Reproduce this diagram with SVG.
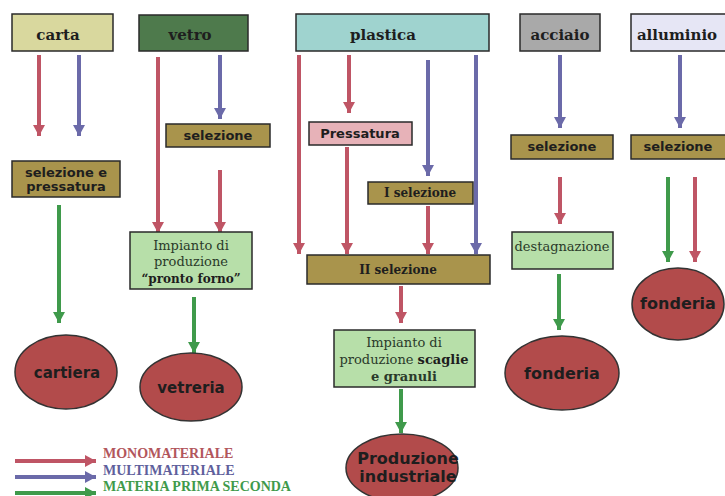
<svg xmlns="http://www.w3.org/2000/svg" width="725" height="496" viewBox="0 0 725 496">
<defs>
<style>
.bx{stroke:#2a2a2a;stroke-width:1.5}
.top{font-family:"DejaVu Serif",serif;font-weight:bold;font-size:15px;fill:#1e1e1e;text-anchor:middle}
.sel{font-family:"DejaVu Sans",sans-serif;font-weight:bold;font-size:13px;fill:#1e1e1e;text-anchor:middle}
.ser{font-family:"DejaVu Serif",serif;font-size:13px;fill:#2a3a2a;text-anchor:middle}
.serb{font-family:"DejaVu Serif",serif;font-weight:bold;font-size:12px;fill:#1e1e1e;text-anchor:middle}
.ell{fill:#b24b4b;stroke:#333;stroke-width:1.5}
.et{font-family:"DejaVu Sans",sans-serif;font-weight:bold;font-size:15px;fill:#1e1e1e;text-anchor:middle}
.et16{font-size:16px}
.r{stroke:#bf5565;stroke-width:4;fill:none}
.b{stroke:#6b6aa9;stroke-width:4;fill:none}
.g{stroke:#3f9a4b;stroke-width:4;fill:none}
.lg{font-family:"Liberation Serif",serif;font-weight:bold;font-size:14px}
</style>
<marker id="mr" markerUnits="userSpaceOnUse" markerWidth="12" markerHeight="12" refX="11" refY="6" orient="auto"><path d="M0,0 L11,6 L0,12 z" fill="#bf5565"/></marker>
<marker id="mb" markerUnits="userSpaceOnUse" markerWidth="12" markerHeight="12" refX="11" refY="6" orient="auto"><path d="M0,0 L11,6 L0,12 z" fill="#6b6aa9"/></marker>
<marker id="mg" markerUnits="userSpaceOnUse" markerWidth="12" markerHeight="12" refX="11" refY="6" orient="auto"><path d="M0,0 L11,6 L0,12 z" fill="#3f9a4b"/></marker>
</defs>
<rect width="725" height="496" fill="#ffffff"/>

<g id="connectors">
<path class="r" d="M39,55 V136" marker-end="url(#mr)"/>
<path class="b" d="M79,55 V136" marker-end="url(#mb)"/>
<path class="g" d="M59,205 V323" marker-end="url(#mg)"/>
<path class="r" d="M158,57 V233" marker-end="url(#mr)"/>
<path class="b" d="M220,55 V119" marker-end="url(#mb)"/>
<path class="r" d="M220,170 V233" marker-end="url(#mr)"/>
<path class="g" d="M194,297 V353" marker-end="url(#mg)"/>
<path class="r" d="M299,55 V254" marker-end="url(#mr)"/>
<path class="r" d="M349,55 V113" marker-end="url(#mr)"/>
<path class="r" d="M347,147 V254" marker-end="url(#mr)"/>
<path class="b" d="M428,60 V176" marker-end="url(#mb)"/>
<path class="b" d="M476,55 V254" marker-end="url(#mb)"/>
<path class="r" d="M428,206 V254" marker-end="url(#mr)"/>
<path class="r" d="M401,286 V323" marker-end="url(#mr)"/>
<path class="g" d="M401,389 V433" marker-end="url(#mg)"/>
<path class="b" d="M560,55 V128" marker-end="url(#mb)"/>
<path class="r" d="M560,177 V224" marker-end="url(#mr)"/>
<path class="g" d="M559,274 V330" marker-end="url(#mg)"/>
<path class="b" d="M680,55 V128" marker-end="url(#mb)"/>
<path class="g" d="M668,177 V262" marker-end="url(#mg)"/>
<path class="r" d="M695,177 V262" marker-end="url(#mr)"/>
</g>

<g id="carta"><rect class="bx" x="12" y="14" width="101" height="37" fill="#d9d89e"/><text class="top" x="58" y="40">carta</text></g>
<g id="vetro"><rect class="bx" x="139" y="15" width="109" height="36" fill="#4e7a4c"/><text class="top" x="190" y="40">vetro</text></g>
<g id="plastica"><rect class="bx" x="296" y="14" width="193" height="37" fill="#9fd3cf"/><text class="top" x="383" y="40">plastica</text></g>
<g id="acciaio"><rect class="bx" x="520" y="14" width="80" height="37" fill="#a9a9a9"/><text class="top" x="560" y="40">acciaio</text></g>
<g id="alluminio"><rect class="bx" x="631" y="14" width="96" height="37" fill="#e6e6f5"/><text class="top" x="677" y="40">alluminio</text></g>

<g id="selezione-pressatura"><rect class="bx" x="12" y="161" width="108" height="36" fill="#a9944c"/><text class="sel" x="66" y="177">selezione e</text><text class="sel" x="66" y="191">pressatura</text></g>
<g id="selezione-vetro"><rect class="bx" x="166" y="124" width="104" height="23" fill="#a9944c"/><text class="sel" x="218" y="140">selezione</text></g>
<g id="impianto-pronto-forno"><rect class="bx" x="130" y="232" width="122" height="57" fill="#b7dfa9"/><text class="ser" x="191" y="250">Impianto di</text><text class="ser" x="191" y="266">produzione</text><text class="serb" x="191" y="283">“pronto forno”</text></g>

<g id="pressatura"><rect class="bx" x="309" y="122" width="103" height="23" fill="#e7b2b8"/><text class="sel" x="360" y="138">Pressatura</text></g>
<g id="I-selezione"><rect class="bx" x="368" y="182" width="105" height="22" fill="#a9944c"/><text class="serb" x="420" y="197">I selezione</text></g>
<g id="II-selezione"><rect class="bx" x="307" y="255" width="183" height="29" fill="#a9944c"/><text class="serb" x="398" y="274">II selezione</text></g>
<g id="impianto-scaglie"><rect class="bx" x="334" y="330" width="141" height="57" fill="#b7dfa9"/><text class="ser" x="404" y="347">Impianto di</text><text class="ser" x="404" y="364">produzione <tspan font-weight="bold" fill="#1e1e1e">scaglie</tspan></text><text class="ser" x="404" y="381" font-weight="bold" fill="#1e1e1e">e granuli</text></g>

<g id="selezione-acciaio"><rect class="bx" x="511" y="135" width="102" height="24" fill="#a9944c"/><text class="sel" x="562" y="151">selezione</text></g>
<g id="destagnazione"><rect class="bx" x="512" y="232" width="101" height="37" fill="#b7dfa9"/><text class="ser" x="562" y="251">destagnazione</text></g>
<g id="selezione-alluminio"><rect class="bx" x="631" y="135" width="96" height="24" fill="#a9944c"/><text class="sel" x="678" y="151">selezione</text></g>

<g id="cartiera"><ellipse class="ell" cx="66" cy="372" rx="51" ry="37"/><text class="et" x="67" y="378">cartiera</text></g>
<g id="vetreria"><ellipse class="ell" cx="191" cy="387" rx="51" ry="34"/><text class="et" x="191" y="393">vetreria</text></g>
<g id="fonderia-acciaio"><ellipse class="ell" cx="562" cy="373" rx="57" ry="37"/><text class="et et16" x="562" y="379">fonderia</text></g>
<g id="fonderia-alluminio"><ellipse class="ell" cx="678" cy="304" rx="46" ry="36"/><text class="et et16" x="678" y="309">fonderia</text></g>
<g id="produzione-industriale"><ellipse class="ell" cx="402" cy="468" rx="56" ry="34"/><text class="et et16" x="408" y="464">Produzione</text><text class="et et16" x="408" y="482">industriale</text></g>

<g id="legend">
<path class="r" d="M15,461 H96" stroke-width="5" marker-end="url(#mr)"/>
<path class="b" d="M15,477 H96" stroke-width="5" marker-end="url(#mb)"/>
<path class="g" d="M15,493 H96" stroke-width="5" marker-end="url(#mg)"/>
<text class="lg" x="103" y="458" fill="#b2565c">MONOMATERIALE</text>
<text class="lg" x="103" y="475" fill="#5f5f9c">MULTIMATERIALE</text>
<text class="lg" x="103" y="491" fill="#3f9a4b">MATERIA PRIMA SECONDA</text>
</g>
</svg>
